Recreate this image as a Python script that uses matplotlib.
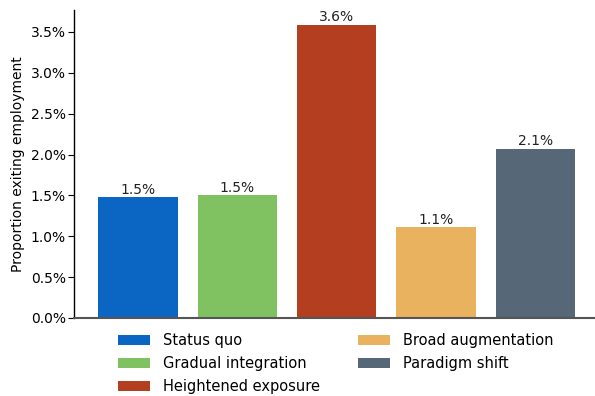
import matplotlib
matplotlib.use("Agg")
import matplotlib.pyplot as plt
from matplotlib.ticker import PercentFormatter

plt.rcParams['font.family'] = ['DejaVu Sans']

scenarios = ["Status quo", "Gradual integration", "Heightened exposure",
             "Broad augmentation", "Paradigm shift"]
values = [1.48, 1.505, 3.59, 1.11, 2.07]   # percent
labels = ["1.5%", "1.5%", "3.6%", "1.1%", "2.1%"]
colors = ["#0b66c3", "#80c262", "#b33f20", "#e9b25e", "#566778"]

fig = plt.figure(figsize=(5.95, 3.96), dpi=100)
ax = fig.add_axes([0.1244, 0.197, 0.8756, 0.778])

x = range(len(scenarios))
bars = ax.bar(x, values, width=0.8, color=colors, label=scenarios, zorder=2)
for b, lab in zip(bars, labels):
    ax.text(b.get_x() + b.get_width() / 2, b.get_height() + 0.005, lab,
            ha="center", va="bottom", fontsize=10, color="#222222")

ax.set_xlim(-0.645, 4.6)
ax.set_ylim(0, 3.77)
ax.set_yticks([0, 0.5, 1.0, 1.5, 2.0, 2.5, 3.0, 3.5])
ax.yaxis.set_major_formatter(PercentFormatter(decimals=1))
ax.set_xticks([])
ax.set_ylabel("Proportion exiting employment", fontsize=10, labelpad=4)
ax.tick_params(axis="y", labelsize=10, length=4, width=0.8, pad=2)

for s in ["top", "right"]:
    ax.spines[s].set_visible(False)
ax.spines["left"].set_color("black")
ax.spines["left"].set_linewidth(1.0)
ax.spines["bottom"].set_color("#555555")
ax.spines["bottom"].set_linewidth(1.5)

ax.legend(handles=bars, labels=scenarios, ncol=2, loc="upper center",
          bbox_to_anchor=(0.503, -0.007), frameon=False, fontsize=10.5,
          handlelength=2.2, handleheight=0.7, columnspacing=2.6,
          labelspacing=0.55, handletextpad=0.9)

fig.savefig("out.png", dpi=100)
